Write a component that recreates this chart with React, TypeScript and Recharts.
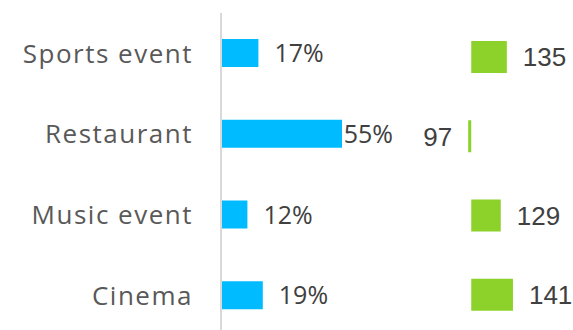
import { BarChart, Bar, XAxis, YAxis, LabelList } from 'recharts'

const categories = ['Sports event', 'Restaurant', 'Music event', 'Cinema']
const shares = [17, 55, 12, 19]
const counts = [135, 97, 129, 141]
const countBase = 100

const data = categories.map((name, i) => ({
  name,
  share: shares[i],
  countRange: [Math.min(countBase, counts[i]), Math.max(countBase, counts[i])]
}))

const BLUE = '#00BBFF'
const GREEN = '#8CD22A'
const SHARE_LIMIT = 393

function ShareLabel(props: any) {
  const x = Number(props.x)
  const y = Number(props.y)
  const w = Number(props.width)
  const h = Number(props.height)
  const text = `${props.value}%`
  let tx = x + w + 16
  let anchor = 'start'
  if (tx + text.length * 16.5 > SHARE_LIMIT) {
    tx = SHARE_LIMIT
    anchor = 'end'
  }
  return (
    <text
      x={tx}
      y={y + h / 2}
      dy="0.36em"
      textAnchor={anchor}
      fill="#404040"
      fontSize={25}
      fontFamily="'Open Sans', sans-serif"
    >
      {text}
    </text>
  )
}

function CountLabel(props: any) {
  const x = Number(props.x)
  const y = Number(props.y)
  const w = Number(props.width)
  const h = Number(props.height)
  const v = counts[props.index]
  const below = v < countBase
  return (
    <text
      x={below ? x - 16 : x + w + 16}
      y={y + h / 2}
      dy="0.36em"
      textAnchor={below ? 'end' : 'start'}
      fill="#404040"
      fontSize={26}
      fontFamily="'Liberation Sans', Arial, sans-serif"
    >
      {v}
    </text>
  )
}

export default function App() {
  return (
    <div
      style={{
        position: 'fixed',
        top: 0,
        left: 0,
        width: 573,
        height: 330,
        overflow: 'hidden',
        background: '#fff'
      }}
    >
      <div style={{ position: 'absolute', left: 0, top: 0 }}>
        <BarChart
          layout="vertical"
          width={397}
          height={336}
          data={data}
          margin={{ top: 13, right: 0, bottom: 0, left: 0 }}
        >
          <XAxis type="number" hide domain={[0, 80]} />
          <YAxis
            type="category"
            dataKey="name"
            width={221}
            axisLine={{ stroke: '#D9D9D9', strokeWidth: 2 }}
            tickLine={false}
            tickSize={0}
            tickMargin={28}
            tick={{
              fill: '#595959',
              fontSize: 26,
              fontFamily: "'Open Sans', sans-serif",
              letterSpacing: 1.5
            }}
          />
          <Bar dataKey="share" fill={BLUE} barSize={28} isAnimationActive={false}>
            <LabelList dataKey="share" content={ShareLabel} />
          </Bar>
        </BarChart>
      </div>
      <div style={{ position: 'absolute', left: 400, top: 0 }}>
        <BarChart
          layout="vertical"
          width={173}
          height={336}
          data={data}
          margin={{ top: 17, right: 0, bottom: 2, left: 0 }}
        >
          <XAxis type="number" hide domain={[30, 200]} />
          <YAxis type="category" dataKey="name" hide />
          <Bar dataKey="countRange" fill={GREEN} barSize={32} isAnimationActive={false}>
            <LabelList dataKey="countRange" content={CountLabel} />
          </Bar>
        </BarChart>
      </div>
    </div>
  )
}
